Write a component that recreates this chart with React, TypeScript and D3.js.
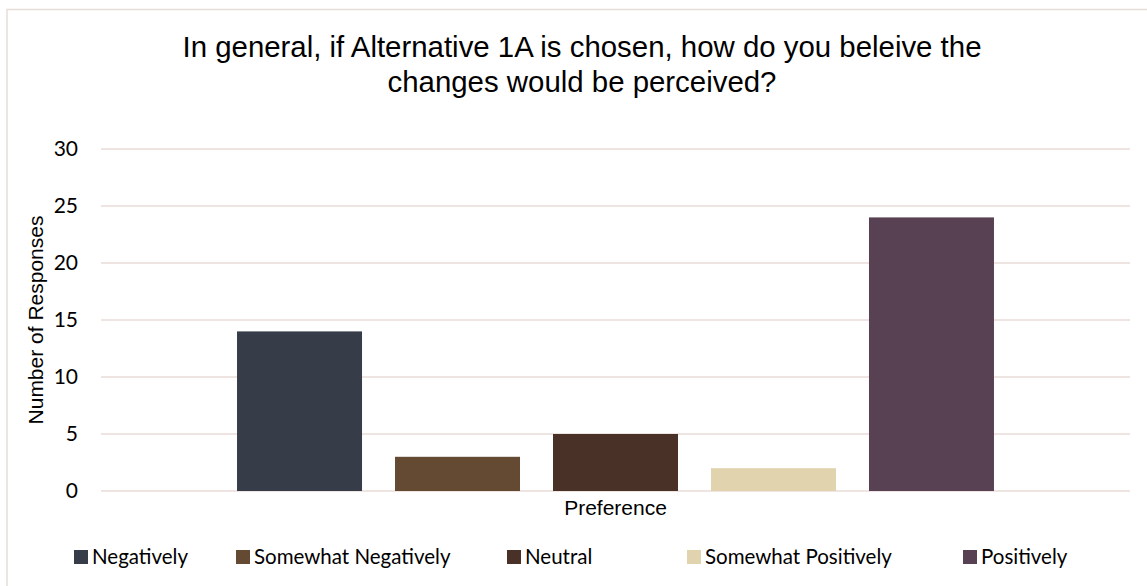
import React from "react";
import * as d3 from "d3";

const categories = ["Preference"];
const seriesNames = ["Negatively", "Somewhat Negatively", "Neutral", "Somewhat Positively", "Positively"];
const seriesValues = [14, 3, 5, 2, 24];
const seriesColors = ["#363c48", "#654a33", "#4a3128", "#e0d3ad", "#584152"];
const yTicks = [0, 5, 10, 15, 20, 25, 30];
const titleLines = ["In general, if Alternative 1A is chosen, how do you beleive the", "changes would be perceived?"];
const yAxisTitle = "Number of Responses";
const legendX = [74, 236, 507, 687, 963];

export default function App() {
  const W = 1147, H = 586;
  const plotLeft = 101, plotRight = 1130, plotTop = 149, plotBottom = 491;
  const y = d3.scaleLinear().domain([0, 30]).range([plotBottom, plotTop]);
  const x0 = d3.scaleBand().domain(categories).range([plotLeft, plotRight]).paddingInner(0).paddingOuter(0.1797);
  const x1 = d3.scaleBand().domain(seriesNames).range([0, x0.bandwidth()]).paddingInner(33 / 158).paddingOuter(0);
  const arial = "'Liberation Sans', Arial, sans-serif";
  const cal = "Lato, 'Open Sans', sans-serif";
  const grid = "#e8ddd8";
  return (
    <svg width={W} height={H} style={{ position: "absolute", left: 0, top: 0 }}>
      <rect x={0} y={0} width={W} height={H} fill="#fff" />
      <rect x={7} y={9.5} width={W + 10} height={H + 10} fill="none" stroke={grid} strokeWidth={1.5} />
      {titleLines.map((t, i) => (
        <text key={i} x={582} y={57 + i * 35} textAnchor="middle" fontFamily={arial} fontSize={29.4} fill="#000">{t}</text>
      ))}
      {yTicks.map((t) => (
        <g key={t}>
          <line x1={plotLeft} x2={plotRight} y1={y(t)} y2={y(t)} stroke={grid} strokeWidth={1.5} />
          <text x={78} y={y(t)} dy="0.35em" textAnchor="end" fontFamily={cal} fontSize={21} fill="#000">{t}</text>
        </g>
      ))}
      <text transform={`translate(43,${(215 + 425) / 2}) rotate(-90)`} textAnchor="middle" fontFamily={arial} fontSize={21} fill="#000">{yAxisTitle}</text>
      {categories.map((c) => (
        <g key={c} transform={`translate(${x0(c)},0)`}>
          {seriesNames.map((s, i) => (
            <rect key={s} x={x1(s)} y={y(seriesValues[i])} width={x1.bandwidth()} height={y(0) - y(seriesValues[i])} fill={seriesColors[i]} />
          ))}
        </g>
      ))}
      {categories.map((c) => (
        <text key={c} x={(x0(c) as number) + x0.bandwidth() / 2} y={515} textAnchor="middle" fontFamily={arial} fontSize={21} fill="#000">{c}</text>
      ))}
      {seriesNames.map((s, i) => (
        <g key={s}>
          <rect x={legendX[i]} y={550} width={14} height={14} fill={seriesColors[i]} />
          <text x={legendX[i] + 18} y={557} dy="0.35em" fontFamily={cal} fontSize={20.5} fill="#000">{s}</text>
        </g>
      ))}
    </svg>
  );
}
